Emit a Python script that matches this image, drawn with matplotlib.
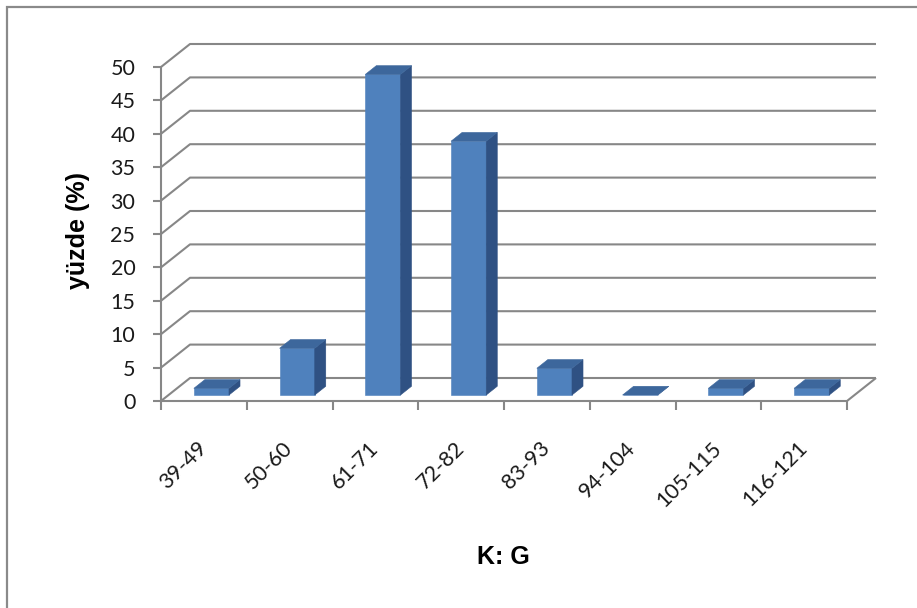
import matplotlib
matplotlib.use("Agg")
import matplotlib.pyplot as plt
from matplotlib.patches import Polygon, Rectangle

# Data
categories = ["39-49", "50-60", "61-71", "72-82", "83-93", "94-104", "105-115", "116-121"]
values = [1, 7, 48, 38, 4, 0, 1, 1]
yticks = list(range(0, 55, 5))
ylabel = "yüzde (%)"
xlabel = "K: G"

# Styling
W, H = 917, 608
grid_col = "#878787"
face_front = "#4F81BD"
face_top = "#3D679C"
face_side = "#2F5183"
tick_font = "Lato"
title_font = "Liberation Sans"

fig = plt.figure(figsize=(W / 100, H / 100), dpi=100)
fig.patch.set_facecolor("white")

# chart frame (extends past the right and bottom edges)
fig.add_artist(Rectangle((7 / W, -0.1), 2.0, 1 - 7 / H + 0.1, transform=fig.transFigure,
                         fill=False, edgecolor="#8a8a8a", linewidth=1.6))

# front plane of the 3-D plot area
ax = fig.add_axes([161 / W, 1 - 401 / H, 686 / W, 334 / H])
n = len(categories)
ax.set_xlim(0, n)
ax.set_ylim(0, 50)
ax.axis("off")

# oblique depth offset (full depth) in data units
DX = 29 / 85.75
DY = 23 / 6.68


def proj(x, y, d):
    return (x + d * DX, y + d * DY)


lw = 1.5
kw = dict(color=grid_col, linewidth=lw, clip_on=False, solid_capstyle="butt")

# back-wall gridlines and side-wall diagonals
for v in yticks:
    x0, y0 = proj(0, v, 0)
    x1, y1 = proj(0, v, 1)
    x2, y2 = proj(n, v, 1)
    ax.plot([x0, x1, x2], [y0, y1, y2], **kw)
    # y tick
    ax.plot([-0.093, 0], [v, v], **kw)
    ax.text(-0.30, v - 0.3, str(v), ha="right", va="center", fontsize=15.5,
            family=tick_font, color="#1a1a1a")

# vertical axis line
ax.plot([0, 0], [0, 50], **kw)

# floor front and right edges
xr, yr = proj(n, 0, 1)
ax.plot([0, n, xr], [0, 0, yr], **kw)

# category ticks
for i in range(n + 1):
    ax.plot([i, i], [0, -1.35], **kw)

# bars
bw = 0.41
d0, d1 = 0.26, 0.64
for i, v in enumerate(values):
    xl = i + 0.5 - bw / 2
    xr_ = xl + bw
    front = [proj(xl, 0, d0), proj(xr_, 0, d0), proj(xr_, v, d0), proj(xl, v, d0)]
    side = [proj(xr_, 0, d0), proj(xr_, 0, d1), proj(xr_, v, d1), proj(xr_, v, d0)]
    top = [proj(xl, v, d0), proj(xr_, v, d0), proj(xr_, v, d1), proj(xl, v, d1)]
    for pts, col in ((front, face_front), (side, face_side), (top, face_top)):
        ax.add_patch(Polygon(pts, closed=True, facecolor=col, edgecolor=col,
                             linewidth=0.4, clip_on=False, zorder=3))

# category labels
for i, lab in enumerate(categories):
    ax.text(i + 0.5, -6.6, lab, rotation=45, rotation_mode="anchor",
            ha="right", va="center", fontsize=15.5, family=tick_font, color="#1a1a1a")

# axis titles
ax.text(-0.968, 25.45, ylabel, rotation=90, ha="center", va="center",
        fontsize=18, fontweight="bold", family=title_font, color="black")
ax.text(3.99, -23.35, xlabel, ha="center", va="center",
        fontsize=18, fontweight="bold", family=title_font, color="black")

fig.savefig("out.png", dpi=100, facecolor="white")
